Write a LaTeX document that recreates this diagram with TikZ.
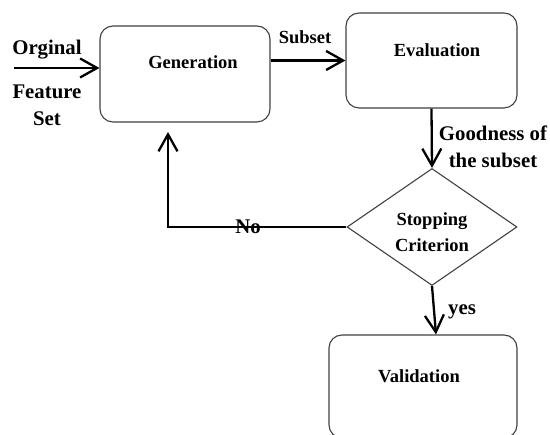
\documentclass[tikz,border=0pt]{standalone}
\usepackage{fontspec}
\setmainfont{Liberation Serif}
\usetikzlibrary{arrows.meta,shapes.geometric}
\begin{document}
\begin{tikzpicture}[x=1pt,y=1pt,
    box/.style={draw=black!75, line width=1.1pt, rounded corners=13pt, minimum width=#1, inner sep=0pt},
    dec/.style={draw=black!75, line width=1.1pt, diamond, minimum width=170pt, minimum height=117pt, inner sep=0pt},
    arr/.style={-{Straight Barb[length=17pt,width=19pt,line width=2.3pt]}, line width=2.3pt},
    txt/.style={font=\bfseries\fontsize{18.5}{26}\selectfont, align=center, inner sep=0pt},
    big/.style={font=\bfseries\fontsize{20.8}{27}\selectfont, align=center, inner sep=0pt}]
      \useasboundingbox (0,0) rectangle (550,435);
      \clip (0,0) rectangle (550,435);
      % boxes
      \node[box=170pt, minimum height=96pt] (gen) at (185,361) {};
      \node[box=171pt, minimum height=95pt] (eval) at (431.5,374.5) {};
      \node[dec] (stop) at (432,208) {};
      \node[box=188pt, minimum height=103pt] (val) at (423,48.5) {};
      \node[txt] (gentxt) at (193,373) {Generation};
      \node[txt] (evaltxt) at (437,385) {Evaluation};
      \node[txt] (stoptxt) at (432,203) {Stopping\\Criterion};
      \node[txt] (valtxt) at (419,59) {Validation};
      % input
      \coordinate (in) at (14,367);
      \draw[arr] (in) -- (in -| gen.west);
      \node[big] (orig) at (47,385) {Orginal};
      \node[big] (feat) at (47,330) {Feature\\Set};
      % connectors
      \draw[arr] (gen.east |- eval.west) -- (eval.west);
      \node[txt] (sub) at (305,398) {Subset};
      \draw[arr] (eval.south) -- (stop.north);
      \node[big] (good) at (493,288) {Goodness of\\the subset};
      \coordinate (back) at (168,303);
      \draw[arr] (stop.west) -| (back);
      \node[big] (no) at (248,208) {No};
      \draw[arr] (stop.south) -- ([xshift=13pt]val.north);
      \node[big] (yes) at (462,123) {yes};
\end{tikzpicture}
\end{document}
